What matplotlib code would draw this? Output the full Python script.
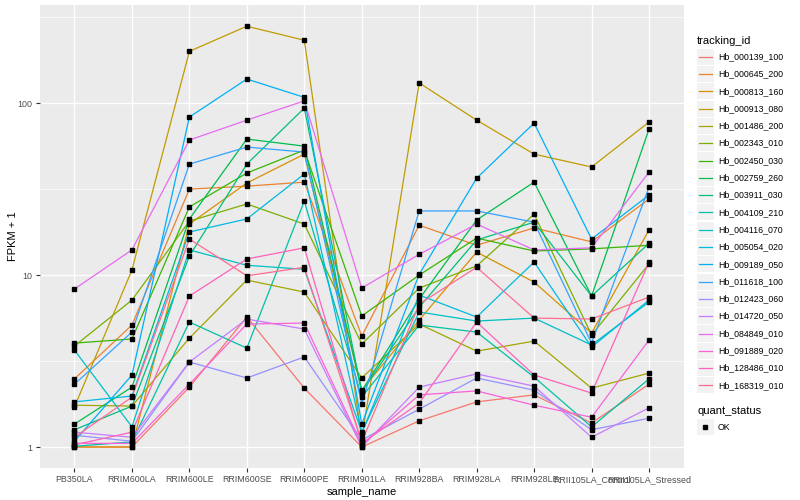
import matplotlib
matplotlib.use("Agg")
import matplotlib.pyplot as plt
from matplotlib.patches import Rectangle
from matplotlib.lines import Line2D

plt.rcParams["font.family"] = ["Liberation Sans", "DejaVu Sans"]

# ---- data (FPKM + 1) ----
samples = ["PB350LA", "RRIM600LA", "RRIM600LE", "RRIM600SE", "RRIM600PE",
           "RRIM901LA", "RRIM928BA", "RRIM928LA", "RRIM928LE",
           "RRII105LA_Control", "RRII105LA_Stressed"]

tracking_ids = ["Hb_000139_100", "Hb_000645_200", "Hb_000813_160", "Hb_000913_080",
                "Hb_001486_200", "Hb_002343_010", "Hb_002450_030", "Hb_002759_260",
                "Hb_003911_030", "Hb_004109_210", "Hb_004116_070", "Hb_005054_020",
                "Hb_009189_050", "Hb_011618_100", "Hb_012423_060", "Hb_014720_050",
                "Hb_084849_010", "Hb_091889_020", "Hb_128486_010", "Hb_168319_010"]

colors = ["#F8766D", "#EA8331", "#D89000", "#C09B00", "#A3A500", "#7CAE00",
          "#39B600", "#00BB4E", "#00BF7D", "#00C1A3", "#00BFC4", "#00BAE0",
          "#00B0F6", "#35A2FF", "#9590FF", "#C77CFF", "#E76BF3", "#FA62DB",
          "#FF62BC", "#FF6C91"]

Hb_000139_100 = [1.0, 1.0, 2.23, 5.7, 2.2, 1.0, 1.42, 1.83, 2.01, 1.38, 2.32]
Hb_000645_200 = [2.49, 5.12, 31.6, 32.9, 34.7, 4.42, 19.5, 14.9, 18.8, 15.6, 27.7]
Hb_000813_160 = [1.0, 1.0, 19.8, 34.3, 50.5, 2.14, 5.47, 13.6, 9.1, 4.6, 18.3]
Hb_000913_080 = [1.71, 10.7, 200, 280, 232, 1.13, 131, 79.6, 50.5, 42.5, 77.6]
Hb_001486_200 = [1.75, 1.73, 4.3, 9.35, 7.96, 2.52, 5.19, 3.61, 4.13, 2.2, 2.69]
Hb_002343_010 = [3.87, 7.15, 20.6, 25.9, 19.8, 3.97, 8.4, 11.3, 22.6, 4.48, 11.6]
Hb_002450_030 = [4.02, 4.25, 24.9, 39.2, 53.3, 5.78, 10.0, 16.4, 13.8, 14.2, 14.9]
Hb_002759_260 = [1.36, 2.23, 21.2, 61.8, 56.2, 2.12, 7.25, 20.9, 34.7, 7.55, 70.6]
Hb_003911_030 = [1.26, 1.73, 12.9, 44.2, 93.5, 2.09, 6.5, 16.0, 20.3, 7.55, 15.3]
Hb_004109_210 = [1.01, 1.07, 5.33, 3.76, 26.9, 1.95, 5.12, 4.66, 2.55, 1.31, 2.49]
Hb_004116_070 = [3.66, 1.31, 14.0, 11.4, 10.8, 1.22, 6.1, 5.4, 5.62, 3.92, 6.97]
Hb_005054_020 = [1.83, 1.98, 17.8, 21.2, 38.7, 1.21, 7.65, 5.7, 11.9, 3.81, 7.15]
Hb_009189_050 = [1.08, 2.62, 83, 138, 108, 1.36, 10.1, 36.6, 76.5, 16.2, 29.2]
Hb_011618_100 = [2.32, 4.66, 44.2, 55.5, 51.9, 1.78, 23.6, 23.6, 20.3, 4.02, 32.5]
Hb_012423_060 = [1.17, 1.08, 3.12, 2.52, 3.34, 1.10, 1.66, 2.52, 2.14, 1.26, 1.47]
Hb_014720_050 = [1.22, 1.14, 3.12, 5.55, 4.85, 1.0, 2.23, 2.66, 2.26, 1.14, 1.69]
Hb_084849_010 = [8.3, 14.0, 61, 79.6, 103, 8.4, 13.2, 19.8, 14.0, 14.4, 39.7]
Hb_091889_020 = [1.05, 1.05, 2.32, 5.19, 5.26, 1.03, 2.01, 2.12, 1.75, 1.49, 4.19]
Hb_128486_010 = [1.03, 1.22, 7.55, 12.4, 14.4, 1.05, 1.8, 5.33, 2.62, 2.06, 11.9]
Hb_168319_010 = [1.14, 1.95, 16.2, 9.9, 11.1, 1.07, 6.78, 11.1, 5.62, 5.55, 7.45]

series = [Hb_000139_100, Hb_000645_200, Hb_000813_160, Hb_000913_080, Hb_001486_200,
          Hb_002343_010, Hb_002450_030, Hb_002759_260, Hb_003911_030, Hb_004109_210,
          Hb_004116_070, Hb_005054_020, Hb_009189_050, Hb_011618_100, Hb_012423_060,
          Hb_014720_050, Hb_084849_010, Hb_091889_020, Hb_128486_010, Hb_168319_010]

W, H = 800, 500
fig = plt.figure(figsize=(W / 100, H / 100), dpi=100)
ax = fig.add_axes([40 / W, 1 - 468 / H, (683.5 - 40) / W, (468 - 5) / H])
ax.set_facecolor("#EBEBEB")
for s in ax.spines.values():
    s.set_visible(False)

x = list(range(len(samples)))
for vals, c in zip(series, colors):
    ax.plot(x, vals, color=c, lw=0.9, zorder=3)
for vals in series:
    ax.plot(x, vals, ls="none", marker="s", ms=2.4, color="black", zorder=4)

ax.set_yscale("log")
ax.set_ylim(0.755, 372)
ax.set_xlim(-0.6, len(samples) - 0.4)
ax.set_yticks([1, 10, 100])
ax.set_yticklabels(["1", "10", "100"])
ax.set_yticks([10 ** 0.5, 10 ** 1.5, 10 ** 2.5], minor=True)
ax.yaxis.set_minor_formatter(plt.NullFormatter())
ax.set_xticks(x)
ax.set_xticklabels(samples)
ax.grid(True, which="major", color="white", lw=1.0, zorder=0)
ax.grid(True, which="minor", axis="y", color="white", lw=0.5, zorder=0)
ax.set_axisbelow(True)
ax.tick_params(axis="both", which="major", length=2.8, width=0.8, color="#333333",
               labelsize=6.4, labelcolor="#4D4D4D", pad=2.5)
ax.tick_params(axis="y", which="minor", length=0)
ax.set_xlabel("sample_name", fontsize=8, labelpad=2)
ax.set_ylabel("FPKM + 1", fontsize=8)
ax.yaxis.set_label_coords(-22 / 643.5, 0.5)

# ---- legends drawn by hand in figure pixels ----
def fx(px):
    return px / W


def fy(py):
    return 1 - py / H


fig.text(fx(697), fy(41), "tracking_id", fontsize=8, va="center", ha="left")
step = 17.3
for i, (name, c) in enumerate(zip(tracking_ids, colors)):
    yc = 56.7 + i * step
    fig.patches.append(Rectangle((fx(697), fy(yc + step / 2 - 0.6)), fx(16.5),
                                 (step - 1.2) / H, transform=fig.transFigure,
                                 facecolor="#F2F2F2", edgecolor="none"))
    fig.lines.append(Line2D([fx(699), fx(712)], [fy(yc), fy(yc)], color=c, lw=0.9,
                            transform=fig.transFigure))
    fig.text(fx(718), fy(yc), name, fontsize=6.3, va="center", ha="left")

fig.text(fx(697), fy(411.5), "quant_status", fontsize=8, va="center", ha="left")
fig.patches.append(Rectangle((fx(697), fy(427 + step / 2 - 0.6)), fx(16.5),
                             (step - 1.2) / H, transform=fig.transFigure,
                             facecolor="#F2F2F2", edgecolor="none"))
fig.lines.append(Line2D([fx(705.2)], [fy(427)], marker="s", ms=2.4, color="black",
                        ls="none", transform=fig.transFigure))
fig.text(fx(718), fy(427), "OK", fontsize=6.3, va="center", ha="left")

fig.savefig("out.png", dpi=100, facecolor="white")
